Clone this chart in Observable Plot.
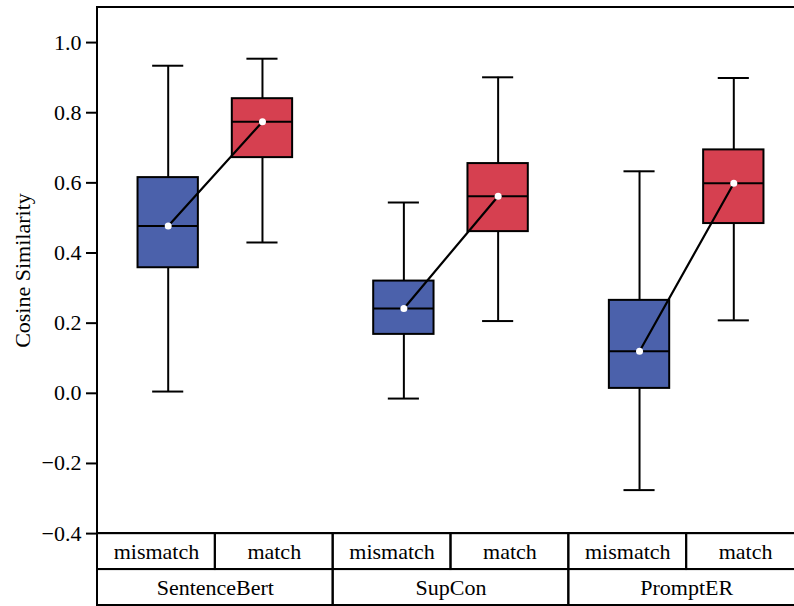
<!DOCTYPE html>
<html>
<head>
<meta charset="utf-8">
<script src="https://cdn.jsdelivr.net/npm/d3@7"></script>
<script src="https://cdn.jsdelivr.net/npm/@observablehq/plot@0.6"></script>
<style>
  html, body { margin: 0; padding: 0; background: white; }
  #chart svg { display: block; }
  #chart svg, #chart svg text { font-family: "Liberation Serif", "Times New Roman", serif !important; }
  #chart g[aria-label="y-axis tick"] { stroke-width: 2; }
  #chart .tick line { stroke-width: 2; }
</style>
</head>
<body>
<div id="chart"></div>
<script>
// ---- data ----
const methods = ["SentenceBert", "SupCon", "PromptER"];
const pairs = ["mismatch", "match"];
const colors = ["#4b61ab", "#d64050"];
// values ordered: SentenceBert mismatch, SentenceBert match, SupCon mismatch, SupCon match, PromptER mismatch, PromptER match
const whiskerLow  = [0.005, 0.430, -0.015, 0.206, -0.276, 0.208];
const q1          = [0.358, 0.672, 0.168, 0.461, 0.014, 0.484];
const medians     = [0.477, 0.774, 0.242, 0.562, 0.120, 0.599];
const q3          = [0.615, 0.840, 0.320, 0.655, 0.265, 0.694];
const whiskerHigh = [0.934, 0.954, 0.544, 0.901, 0.633, 0.899];
const yTicks = [-0.4, -0.2, 0.0, 0.2, 0.4, 0.6, 0.8, 1.0];
const yLabel = "Cosine Similarity";

// ---- layout helpers ----
const boxOffset = 0.2;   // box centre offset from group centre (x units, 1 unit = one method group)
const boxHalf = 0.128;
const capHalf = 0.066;
const yMin = -0.4, yMax = 1.1;
const rowH = 0.1025;     // height of a table row in y units
const row1 = [yMin, yMin - rowH];
const row2 = [yMin - rowH, yMin - 2 * rowH];

const boxes = [];
methods.forEach((m, g) => {
  pairs.forEach((p, j) => {
    const k = g * pairs.length + j;
    boxes.push({
      method: m, pair: p, color: colors[j],
      pos: g + 0.5 + (j === 0 ? -boxOffset : boxOffset),
      lo: whiskerLow[k], q1: q1[k], med: medians[k], q3: q3[k], hi: whiskerHigh[k]
    });
  });
});

// table cells
const cells1 = [];
methods.forEach((m, g) => pairs.forEach((p, j) => cells1.push({label: p, x1: g + j * 0.5, x2: g + (j + 1) * 0.5})));
const cells2 = methods.map((m, g) => ({label: m, x1: g, x2: g + 1}));
const frameRect = [{x1: 0, x2: methods.length, y1: yMin, y2: yMax}];

const chart = Plot.plot({
  width: 794,
  height: 606,
  marginLeft: 97,
  marginRight: 0,
  marginTop: 7,
  marginBottom: 0,
  style: {fontFamily: "Liberation Serif, serif", fontSize: "22px", background: "white", color: "black"},
  x: {type: "linear", domain: [0, methods.length], range: [97, 804], axis: null},
  y: {
    domain: [yMin - 2 * rowH, yMax], range: [605, 7],
    ticks: yTicks, tickSize: 11, tickPadding: 5,
    tickFormat: d3.format(".1f"), label: null
  },
  marks: [
    // boxes
    Plot.rect(boxes, {x1: d => d.pos - boxHalf, x2: d => d.pos + boxHalf, y1: "q1", y2: "q3", fill: "color", stroke: "black", strokeWidth: 2}),
    // whiskers
    Plot.ruleX(boxes, {x: "pos", y1: "lo", y2: "q1", stroke: "black", strokeWidth: 2}),
    Plot.ruleX(boxes, {x: "pos", y1: "q3", y2: "hi", stroke: "black", strokeWidth: 2}),
    Plot.ruleY(boxes, {y: "lo", x1: d => d.pos - capHalf, x2: d => d.pos + capHalf, stroke: "black", strokeWidth: 2}),
    Plot.ruleY(boxes, {y: "hi", x1: d => d.pos - capHalf, x2: d => d.pos + capHalf, stroke: "black", strokeWidth: 2}),
    // medians
    Plot.ruleY(boxes, {y: "med", x1: d => d.pos - boxHalf, x2: d => d.pos + boxHalf, stroke: "black", strokeWidth: 2}),
    // connecting lines
    Plot.line(boxes, {x: "pos", y: "med", z: "method", stroke: "black", strokeWidth: 2.2}),
    Plot.dot(boxes, {x: "pos", y: "med", r: 3.5, fill: "white", stroke: null}),
    // plot frame
    Plot.rect(frameRect, {x1: "x1", x2: "x2", y1: "y1", y2: "y2", fill: "none", stroke: "black", strokeWidth: 2}),
    // table row 1
    Plot.rect(cells1, {x1: "x1", x2: "x2", y1: row1[0], y2: row1[1], fill: "none", stroke: "black", strokeWidth: 2}),
    Plot.text(cells1, {x: d => (d.x1 + d.x2) / 2, y: (row1[0] + row1[1]) / 2, text: "label", lineAnchor: "middle", fill: "black"}),
    // table row 2
    Plot.rect(cells2, {x1: "x1", x2: "x2", y1: row2[0], y2: row2[1], fill: "none", stroke: "black", strokeWidth: 2}),
    Plot.text(cells2, {x: d => (d.x1 + d.x2) / 2, y: (row2[0] + row2[1]) / 2, text: "label", lineAnchor: "middle", fill: "black"}),
    // y label
    Plot.text([yLabel], {frameAnchor: "left", y: (yMin + yMax) / 2, text: d => d, rotate: -90, dx: -75, textAnchor: "middle", lineAnchor: "middle", fontSize: 22, fill: "black"})
  ]
});
document.getElementById("chart").appendChild(chart);
</script>
</body>
</html>
